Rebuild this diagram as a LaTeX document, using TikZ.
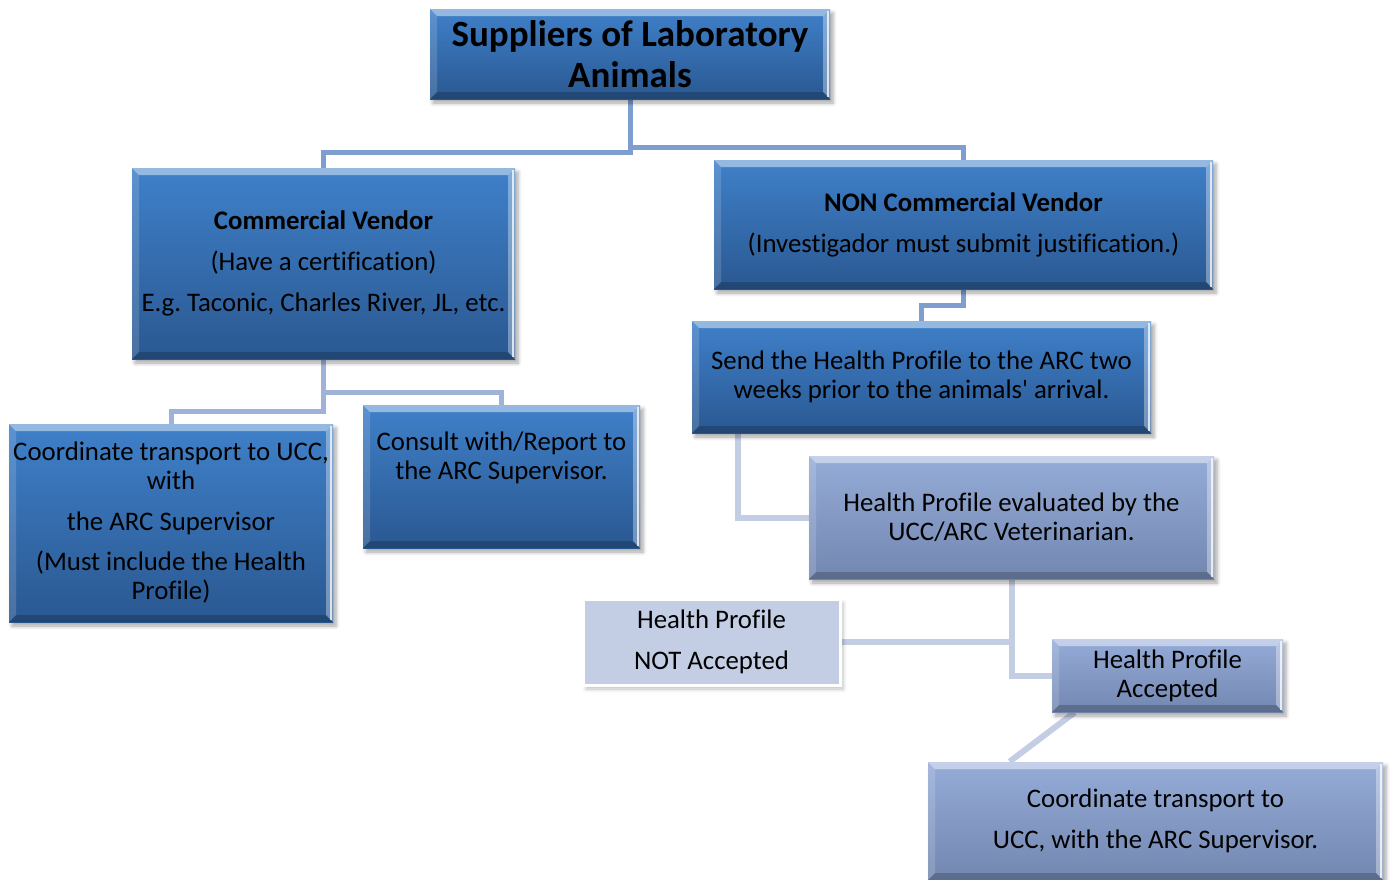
\documentclass[tikz,border=0pt]{standalone}
\usepackage{fontspec}
\setmainfont{Carlito}[Ligatures={TeXOff,CommonOff}]
\frenchspacing
\usetikzlibrary{shadows.blur,backgrounds}
\definecolor{dkTop}{HTML}{3F80C9}
\definecolor{dkBot}{HTML}{2A5891}
\definecolor{ltTop}{HTML}{95ACD8}
\definecolor{ltBot}{HTML}{7287B0}
\definecolor{paleFill}{HTML}{C3CEE5}
\definecolor{connA}{HTML}{7F9ED0}
\definecolor{connB}{HTML}{9FB3D9}
\definecolor{connC}{HTML}{C3CDE3}
\tikzset{
  bevelbox/.style={rectangle, inner sep=0pt, align=center, text=black,
    font=\fontsize{13.4}{14.5}\selectfont,
    blur shadow={shadow xshift=1.5pt, shadow yshift=-2pt, shadow blur steps=5, shadow opacity=35},
    path picture={
      \fill[white,opacity=0.45] (path picture bounding box.north west) -- (path picture bounding box.north east) -- ([shift={(-3.5pt,-3.5pt)}]path picture bounding box.north east) -- ([shift={(3.5pt,-3.5pt)}]path picture bounding box.north west) -- cycle;
      \fill[white,opacity=0.15] (path picture bounding box.north west) -- ([shift={(3.5pt,-3.5pt)}]path picture bounding box.north west) -- ([shift={(3.5pt,3.5pt)}]path picture bounding box.south west) -- (path picture bounding box.south west) -- cycle;
      \fill[white,opacity=0.35] (path picture bounding box.north east) -- ([shift={(-3.5pt,-3.5pt)}]path picture bounding box.north east) -- ([shift={(-3.5pt,3.5pt)}]path picture bounding box.south east) -- (path picture bounding box.south east) -- cycle;
      \fill[black,opacity=0.2] (path picture bounding box.south west) -- ([shift={(3.5pt,3.5pt)}]path picture bounding box.south west) -- ([shift={(-3.5pt,3.5pt)}]path picture bounding box.south east) -- (path picture bounding box.south east) -- cycle;
      \draw[white,opacity=0.75,line width=0.8pt] ([shift={(-1pt,-1pt)}]path picture bounding box.north east) -- ([shift={(-1pt,1pt)}]path picture bounding box.south east);
    }},
  darkbox/.style={bevelbox, top color=dkTop, bottom color=dkBot},
  lightbox/.style={bevelbox, top color=ltTop, bottom color=ltBot},
  palebox/.style={rectangle, inner sep=0pt, align=center, text=black,
    font=\fontsize{13.4}{14.5}\selectfont, fill=paleFill, draw=white, line width=1.5pt,
    blur shadow={shadow xshift=1.5pt, shadow yshift=-2pt, shadow blur steps=5, shadow opacity=25}},
  conn/.style={line width=2.5pt, draw=connA},
  connmid/.style={line width=2.5pt, draw=connB},
  connpale/.style={line width=3pt, draw=connC},
}
\begin{document}
\begin{tikzpicture}[x=0.5pt,y=-0.5pt]
\useasboundingbox (0,0) rectangle (1390,879);
% boxes
\node[darkbox, minimum width=200pt, minimum height=45pt, font=\bfseries\fontsize{18.5}{20.5}\selectfont] (title) at (630,54) {Suppliers of Laboratory\\Animals};
\node[darkbox, minimum width=191.5pt, minimum height=95.5pt] (comm) at (323.5,263.5) {\textbf{Commercial Vendor}\\[6pt](Have a certification)\\[6pt]E.g. Taconic, Charles River, JL, etc.};
\node[darkbox, minimum width=249.5pt, minimum height=64.5pt] (noncomm) at (963.5,224.5) {\textbf{NON Commercial Vendor}\\[6pt](Investigador must submit justification.)};
\node[darkbox, minimum width=229.5pt, minimum height=56pt] (send) at (921.5,377) {Send the Health Profile to the ARC two\\weeks prior to the animals' arrival.};
\node[darkbox, minimum width=162pt, minimum height=99pt] (coordL) at (171,523) {Coordinate transport to UCC,\\with\\[6pt]the ARC Supervisor\\[5.5pt](Must include the Health\\Profile)};
\node[darkbox, minimum width=138.5pt, minimum height=71.5pt] (consult) at (501.5,476.5) {Consult with/Report to\\the ARC Supervisor.\\[6pt]\mbox{}};
\node[lightbox, minimum width=202.5pt, minimum height=61.5pt] (eval) at (1011.5,517.5) {Health Profile evaluated by the\\UCC/ARC Veterinarian.};
\node[palebox, minimum width=128.5pt, minimum height=43pt] (notacc) at (711.5,642) {Health Profile\\[6pt]NOT Accepted};
\node[lightbox, minimum width=115.5pt, minimum height=36.5pt] (acc) at (1167.5,675.5) {Health Profile\\Accepted};
\node[lightbox, minimum width=227.5pt, minimum height=59pt] (coordB) at (1155.5,821) {Coordinate transport to\\[6pt]UCC, with the ARC Supervisor.};
% connectors
\begin{scope}[on background layer]
\draw[conn] (title.south) -- ++(0,53) -| (comm.north);
\draw[conn] (title.south) -- ++(0,48) -| (noncomm.north);
\draw[connmid] (comm.south) -- ++(0,33) -| (consult.north);
\draw[connmid] (comm.south) -- ++(0,52) -| (coordL.north);
\draw[conn] (noncomm.south) -- ++(0,16) -| (send.north);
\draw[connpale] ([xshift=23pt]send.south west) |- (eval.west);
\draw[connpale] (eval.south) |- (acc.west);
\draw[connpale] (notacc.east) -- (notacc.east -| eval.south);
\draw[connpale] ([xshift=11.5pt]acc.south west) -- ([xshift=41pt]coordB.north west);
\end{scope}
\end{tikzpicture}
\end{document}
